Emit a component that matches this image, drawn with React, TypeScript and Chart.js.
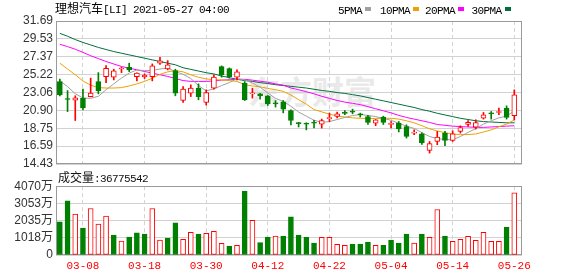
import React, { useEffect, useRef } from 'react';
import { Chart, registerables } from 'chart.js';

Chart.register(...registerables);

// ---------- data ----------
const dates = [
  '03-03', '03-04', '03-05', '03-08', '03-09', '03-10', '03-11', '03-12', '03-15', '03-16',
  '03-17', '03-18', '03-19', '03-22', '03-23', '03-24', '03-25', '03-26', '03-29', '03-30',
  '03-31', '04-01', '04-05', '04-06', '04-07', '04-08', '04-09', '04-12', '04-13', '04-14',
  '04-15', '04-16', '04-19', '04-20', '04-21', '04-22', '04-23', '04-26', '04-27', '04-28',
  '04-29', '04-30', '05-03', '05-04', '05-05', '05-06', '05-07', '05-10', '05-11', '05-12',
  '05-13', '05-14', '05-17', '05-18', '05-19', '05-20', '05-21', '05-24', '05-25', '05-26',
];
const tickDates = ['03-08', '03-18', '03-30', '04-12', '04-22', '05-04', '05-14', '05-26'];

const openPrices = [
  24.38, 22.30, 22.14, 22.38, 22.57, 24.38, 24.98, 24.91, 25.90, 26.11,
  24.98, 24.95, 24.98, 26.60, 25.91, 25.70, 22.09, 22.98, 23.58, 21.85,
  23.58, 26.19, 25.95, 24.91, 24.19, 22.90, 22.90, 22.66, 21.80, 21.93,
  20.89, 19.40, 19.30, 19.40, 19.25, 19.90, 20.16, 20.65, 20.75, 20.40,
  20.16, 19.37, 20.08, 19.20, 19.37, 18.96, 18.15, 18.08, 16.07, 17.15,
  18.16, 17.27, 18.36, 19.20, 18.89, 19.97, 20.57, 20.65, 21.17, 20.25,
];
const highPrices = [
  24.67, 23.29, 22.66, 23.46, 24.79, 25.46, 26.31, 25.87, 26.11, 26.60,
  25.43, 25.30, 26.51, 27.32, 26.91, 25.87, 23.78, 23.98, 24.10, 23.38,
  25.19, 26.27, 26.03, 25.79, 24.38, 23.58, 22.95, 22.70, 22.09, 22.09,
  20.97, 19.45, 19.40, 19.70, 19.85, 20.57, 20.70, 20.89, 21.05, 20.57,
  20.30, 19.80, 20.20, 19.56, 19.56, 19.16, 18.56, 18.20, 17.15, 18.36,
  18.36, 18.44, 19.04, 19.68, 19.77, 20.65, 20.77, 21.17, 21.45, 23.38,
];
const lowPrices = [
  22.66, 20.76, 19.68, 20.97, 22.54, 22.90, 24.26, 24.58, 25.46, 25.58,
  24.46, 24.75, 24.46, 26.45, 25.79, 22.66, 21.85, 22.57, 22.18, 21.54,
  23.46, 24.91, 24.79, 24.58, 22.09, 22.38, 22.26, 21.50, 21.30, 20.60,
  19.16, 18.90, 18.55, 18.77, 18.77, 19.56, 20.00, 20.37, 20.49, 20.10,
  19.20, 19.05, 19.20, 18.77, 18.30, 17.56, 17.96, 16.78, 15.75, 16.76,
  16.64, 17.15, 18.16, 18.96, 18.65, 19.85, 19.85, 20.37, 19.85, 19.77,
];
const closePrices = [
  22.78, 22.22, 22.42, 21.21, 22.98, 23.29, 25.99, 25.67, 25.98, 25.79,
  25.39, 25.15, 26.27, 26.87, 26.39, 22.98, 23.46, 23.58, 22.57, 23.05,
  24.91, 25.19, 24.98, 25.55, 22.18, 23.00, 22.66, 21.69, 21.70, 21.05,
  19.68, 19.30, 19.25, 19.35, 19.68, 20.00, 20.49, 20.55, 20.70, 20.35,
  19.44, 19.77, 19.44, 19.35, 18.65, 17.76, 18.25, 16.96, 16.88, 17.68,
  17.27, 18.08, 18.84, 19.45, 19.44, 20.37, 20.50, 20.77, 20.04, 22.78,
];

const ma5 = [
  24.46, 23.78, 22.90, 22.40, 22.35, 22.60, 23.40, 24.10, 24.80, 25.40,
  25.78, 25.70, 25.72, 25.90, 26.00, 25.60, 25.25, 24.75, 23.90, 23.25,
  23.50, 23.90, 24.25, 24.72, 24.60, 24.20, 23.70, 23.00, 22.35, 22.00,
  21.40, 20.70, 20.20, 19.72, 19.45, 19.55, 19.80, 20.05, 20.28, 20.40,
  20.30, 20.15, 19.95, 19.70, 19.35, 19.00, 18.72, 18.22, 17.75, 17.50,
  17.38, 17.35, 17.75, 18.25, 18.70, 19.25, 19.65, 20.00, 20.20, 20.85,
];
const ma10 = [
  26.60, 25.90, 25.20, 24.45, 23.95, 23.65, 23.60, 23.60, 23.65, 23.85,
  24.10, 24.40, 24.78, 25.25, 25.55, 25.70, 25.55, 25.20, 24.90, 24.70,
  24.60, 24.58, 24.50, 24.40, 24.00, 23.85, 23.75, 23.55, 23.40, 23.20,
  22.75, 22.20, 21.65, 21.00, 20.72, 20.45, 20.22, 20.10, 20.00, 19.95,
  19.90, 19.93, 19.95, 19.95, 19.85, 19.65, 19.40, 19.05, 18.68, 18.42,
  18.20, 18.05, 17.97, 17.98, 18.06, 18.30, 18.55, 18.92, 19.25, 19.75,
];
const ma20 = [
  28.88, 28.60, 28.28, 27.90, 27.50, 27.15, 26.80, 26.50, 26.20, 26.00,
  25.80, 25.60, 25.40, 25.20, 25.00, 24.75, 24.50, 24.40, 24.40, 24.40,
  24.45, 24.55, 24.60, 24.65, 24.65, 24.55, 24.42, 24.30, 24.10, 23.95,
  23.60, 23.40, 23.15, 22.90, 22.60, 22.35, 22.10, 21.90, 21.75, 21.60,
  21.35, 21.10, 20.85, 20.60, 20.30, 20.05, 19.85, 19.65, 19.45, 19.20,
  19.10, 19.00, 18.95, 18.90, 18.85, 18.85, 18.90, 18.95, 19.00, 19.05,
];
const ma30 = [
  30.20, 29.85, 29.45, 29.10, 28.80, 28.50, 28.25, 28.00, 27.80, 27.60,
  27.40, 27.20, 27.00, 26.80, 26.60, 26.40, 26.05, 25.85, 25.65, 25.45,
  25.30, 25.05, 24.85, 24.65, 24.50, 24.40, 24.25, 24.15, 24.00, 23.90,
  23.80, 23.70, 23.60, 23.45, 23.30, 23.20, 23.05, 22.95, 22.80, 22.65,
  22.45, 22.25, 22.05, 21.85, 21.65, 21.45, 21.25, 21.00, 20.80, 20.55,
  20.35, 20.15, 19.95, 19.80, 19.65, 19.55, 19.50, 19.45, 19.40, 19.40,
];

// volume in 万 (10k shares)
const volumes = [
  1967, 3206, 2420, 1593, 2753, 1829, 2301, 1180, 826, 1062,
  1318, 1239, 2753, 885, 1003, 1908, 924, 1337, 1239, 1278,
  1396, 688, 531, 570, 3776, 2045, 728, 1062, 1121, 1121,
  2262, 1180, 1043, 708, 1043, 1043, 630, 570, 649, 649,
  767, 570, 570, 885, 708, 1239, 708, 1239, 1043, 2694,
  1121, 806, 924, 1101, 865, 1337, 806, 806, 1652, 3678,
];
// 1 = closed higher than previous day (red, hollow), 0 = lower (green)
const volumeRising = [
  0, 0, 1, 0, 1, 1, 1, 0, 1, 0,
  0, 0, 1, 1, 0, 0, 1, 1, 0, 1,
  1, 1, 0, 1, 0, 1, 0, 0, 1, 0,
  0, 0, 0, 0, 1, 1, 1, 1, 0, 0,
  0, 1, 0, 0, 0, 0, 1, 0, 1, 1,
  0, 1, 1, 1, 1, 1, 1, 1, 0, 1,
];

const priceTicks = [14.43, 16.59, 18.75, 20.9, 23.06, 25.22, 27.37, 29.53, 31.69];
const volumeTicks = [0, 1018, 2035, 3053, 4070];
const lastVolumeText = '36775542';
const titleText = '理想汽车[LI] 2021-05-27 04:00';

const legendItems = [
  { label: '5PMA', color: '#a0a0a0' },
  { label: '10PMA', color: '#f0a000' },
  { label: '20PMA', color: '#ff00ff' },
  { label: '30PMA', color: '#006f3c' },
];

// ---------- styles ----------
const RED = '#ff0000';
const GREEN = '#008000';
const GRID = '#d2d2d2';
const FRAME = '#9a9a9a';
const AXIS_FONT = { family: '"Liberation Sans", "Noto Sans CJK SC", sans-serif', size: 12 };

const framePlugin = {
  id: 'frame',
  beforeDatasetsDraw(chart: any) {
    const { ctx, chartArea: a } = chart;
    ctx.save();
    ctx.strokeStyle = FRAME;
    ctx.lineWidth = 1;
    const l = Math.round(a.left) + 0.5;
    const t = Math.round(a.top) + 0.5;
    const r = Math.round(a.right) - 0.5;
    const b = Math.round(a.bottom) - 0.5;
    ctx.strokeRect(l, t, r - l, b - t);
    ctx.restore();
  },
};

function xScale(showLabels: boolean, height: number) {
  return {
    type: 'linear',
    min: -0.5,
    max: dates.length,
    offset: false,
    afterBuildTicks: (s: any) => {
      s.ticks = tickDates.map((d) => ({ value: dates.indexOf(d) }));
    },
    afterFit: (s: any) => {
      s.height = height;
    },
    grid: { color: GRID, lineWidth: 1, drawTicks: false, offset: false },
    border: { display: false, dash: [4, 3] },
    ticks: {
      display: showLabels,
      autoSkip: false,
      maxRotation: 0,
      padding: 4,
      color: RED,
      font: { family: '"Liberation Mono", monospace', size: 11 },
      callback: (v: any) => dates[Number(v)] ?? '',
    },
  };
}

function PriceChart() {
  const ref = useRef<HTMLCanvasElement>(null);
  useEffect(() => {
    if (!ref.current) return;
    const up = closePrices.map((c, i) => c >= openPrices[i]);
    const line = (label: string, data: number[], color: string) => ({
      type: 'line',
      label,
      data: data.map((v, i) => ({ x: i, y: v })),
      borderColor: color,
      borderWidth: 1,
      pointRadius: 0,
      tension: 0,
      fill: false,
    });
    const chart = new Chart(ref.current, {
      type: 'bar',
      data: {
        datasets: [
          {
            type: 'bar',
            label: 'body',
            data: dates.map((_, i) => ({ x: i, y: [openPrices[i], closePrices[i]] })),
            backgroundColor: up.map((u) => (u ? '#ffffff' : GREEN)),
            borderColor: up.map((u) => (u ? RED : GREEN)),
            borderWidth: 1,
            borderSkipped: false,
            barThickness: 5,
            minBarLength: 1,
            grouped: false,
          },
          {
            type: 'bar',
            label: 'wick',
            data: dates.map((_, i) => ({ x: i, y: [lowPrices[i], highPrices[i]] })),
            backgroundColor: up.map((u) => (u ? RED : GREEN)),
            borderWidth: 0,
            barThickness: 1,
            grouped: false,
          },
          line('5PMA', ma5, legendItems[0].color),
          line('10PMA', ma10, legendItems[1].color),
          line('20PMA', ma20, legendItems[2].color),
          line('30PMA', ma30, legendItems[3].color),
        ],
      },
      options: {
        responsive: false,
        animation: false,
        events: [],
        layout: { padding: { top: 21, right: 56, bottom: 12, left: 0 } },
        plugins: { legend: { display: false }, tooltip: { enabled: false } },
        scales: {
          x: xScale(false, 0),
          y: {
            min: priceTicks[0],
            max: priceTicks[priceTicks.length - 1],
            afterBuildTicks: (s: any) => {
              s.ticks = priceTicks.map((v) => ({ value: v }));
            },
            afterFit: (s: any) => {
              s.width = 56;
            },
            grid: { color: GRID, drawTicks: false },
            border: { display: false },
            ticks: {
              padding: 3,
              color: '#333',
              font: AXIS_FONT,
              autoSkip: false,
              callback: (v: any) => Number(v).toFixed(2),
            },
          },
        },
      },
      plugins: [framePlugin],
    } as any);
    return () => chart.destroy();
  }, []);
  return <canvas ref={ref} width={578} height={176} style={{ position: 'absolute', left: 0, top: 0, zIndex: 1 }} />;
}

function VolumeChart() {
  const ref = useRef<HTMLCanvasElement>(null);
  useEffect(() => {
    if (!ref.current) return;
    const chart = new Chart(ref.current, {
      type: 'bar',
      data: {
        datasets: [
          {
            type: 'bar',
            label: 'volume',
            data: volumes.map((v, i) => ({ x: i, y: v })),
            backgroundColor: volumeRising.map((r) => (r ? '#ffffff' : GREEN)),
            borderColor: volumeRising.map((r) => (r ? RED : GREEN)),
            borderWidth: 1,
            borderSkipped: false,
            barThickness: 5,
            grouped: false,
          },
        ],
      },
      options: {
        responsive: false,
        animation: false,
        events: [],
        layout: { padding: { top: 10, right: 56, bottom: 0, left: 0 } },
        plugins: { legend: { display: false }, tooltip: { enabled: false } },
        scales: {
          x: xScale(true, 21),
          y: {
            min: volumeTicks[0],
            max: volumeTicks[volumeTicks.length - 1],
            afterBuildTicks: (s: any) => {
              s.ticks = volumeTicks.map((v) => ({ value: v }));
            },
            afterFit: (s: any) => {
              s.width = 56;
            },
            grid: { color: GRID, drawTicks: false },
            border: { display: false },
            ticks: {
              padding: 3,
              color: '#333',
              font: AXIS_FONT,
              autoSkip: false,
              callback: (v: any) => (Number(v) === 0 ? '0' : `${v}万`),
            },
          },
        },
      },
      plugins: [framePlugin],
    } as any);
    return () => chart.destroy();
  }, []);
  return <canvas ref={ref} width={578} height={100} style={{ position: 'absolute', left: 0, top: 176, zIndex: 1 }} />;
}

// Text in a SimSun-like rhythm: CJK 12px wide, ASCII 6px wide
function SimText({ text, left, top, color = '#000' }: { text: string; left: number; top: number; color?: string }) {
  const runs = text.match(/[\u0000-\u00ff]+|[^\u0000-\u00ff]+/g) || [];
  return (
    <div
      style={{
        position: 'absolute',
        left,
        top,
        height: 12,
        lineHeight: '12px',
        whiteSpace: 'nowrap',
        color,
        zIndex: 2,
      }}
    >
      {runs.map((r, i) =>
        /[^\u0000-\u00ff]/.test(r) ? (
          <span key={i} style={{ fontFamily: '"Noto Sans CJK SC", sans-serif', fontSize: 12 }}>
            {r}
          </span>
        ) : (
          <span
            key={i}
            style={{ fontFamily: '"Liberation Mono", monospace', fontSize: 11, letterSpacing: '-0.6px' }}
          >
            {r}
          </span>
        ),
      )}
    </div>
  );
}

export default function App() {
  const legendLefts = [338, 380, 425, 471.5];
  return (
    <div
      style={{
        position: 'fixed',
        left: 0,
        top: 0,
        width: 578,
        height: 276,
        background: '#fff',
        overflow: 'hidden',
      }}
    >
      <div
        style={{
          position: 'absolute',
          left: 248,
          top: 70,
          fontFamily: '"Noto Sans CJK SC", sans-serif',
          fontWeight: 700,
          fontSize: 32,
          lineHeight: '40px',
          color: '#e9e9e9',
          whiteSpace: 'nowrap',
          zIndex: 0,
        }}
      >
        东方财富
      </div>
      <SimText text={titleText} left={55} top={2} />
      {legendItems.map((it, i) => (
        <React.Fragment key={it.label}>
          <SimText text={it.label} left={legendLefts[i]} top={3} />
          <div
            style={{
              position: 'absolute',
              left: legendLefts[i] + it.label.length * 6 + 3,
              top: 7,
              width: 6,
              height: 4,
              background: it.color,
              zIndex: 2,
            }}
          />
        </React.Fragment>
      ))}
      <SimText text={`成交量:${lastVolumeText}`} left={58} top={171} color="#111" />
      <PriceChart />
      <VolumeChart />
    </div>
  );
}
